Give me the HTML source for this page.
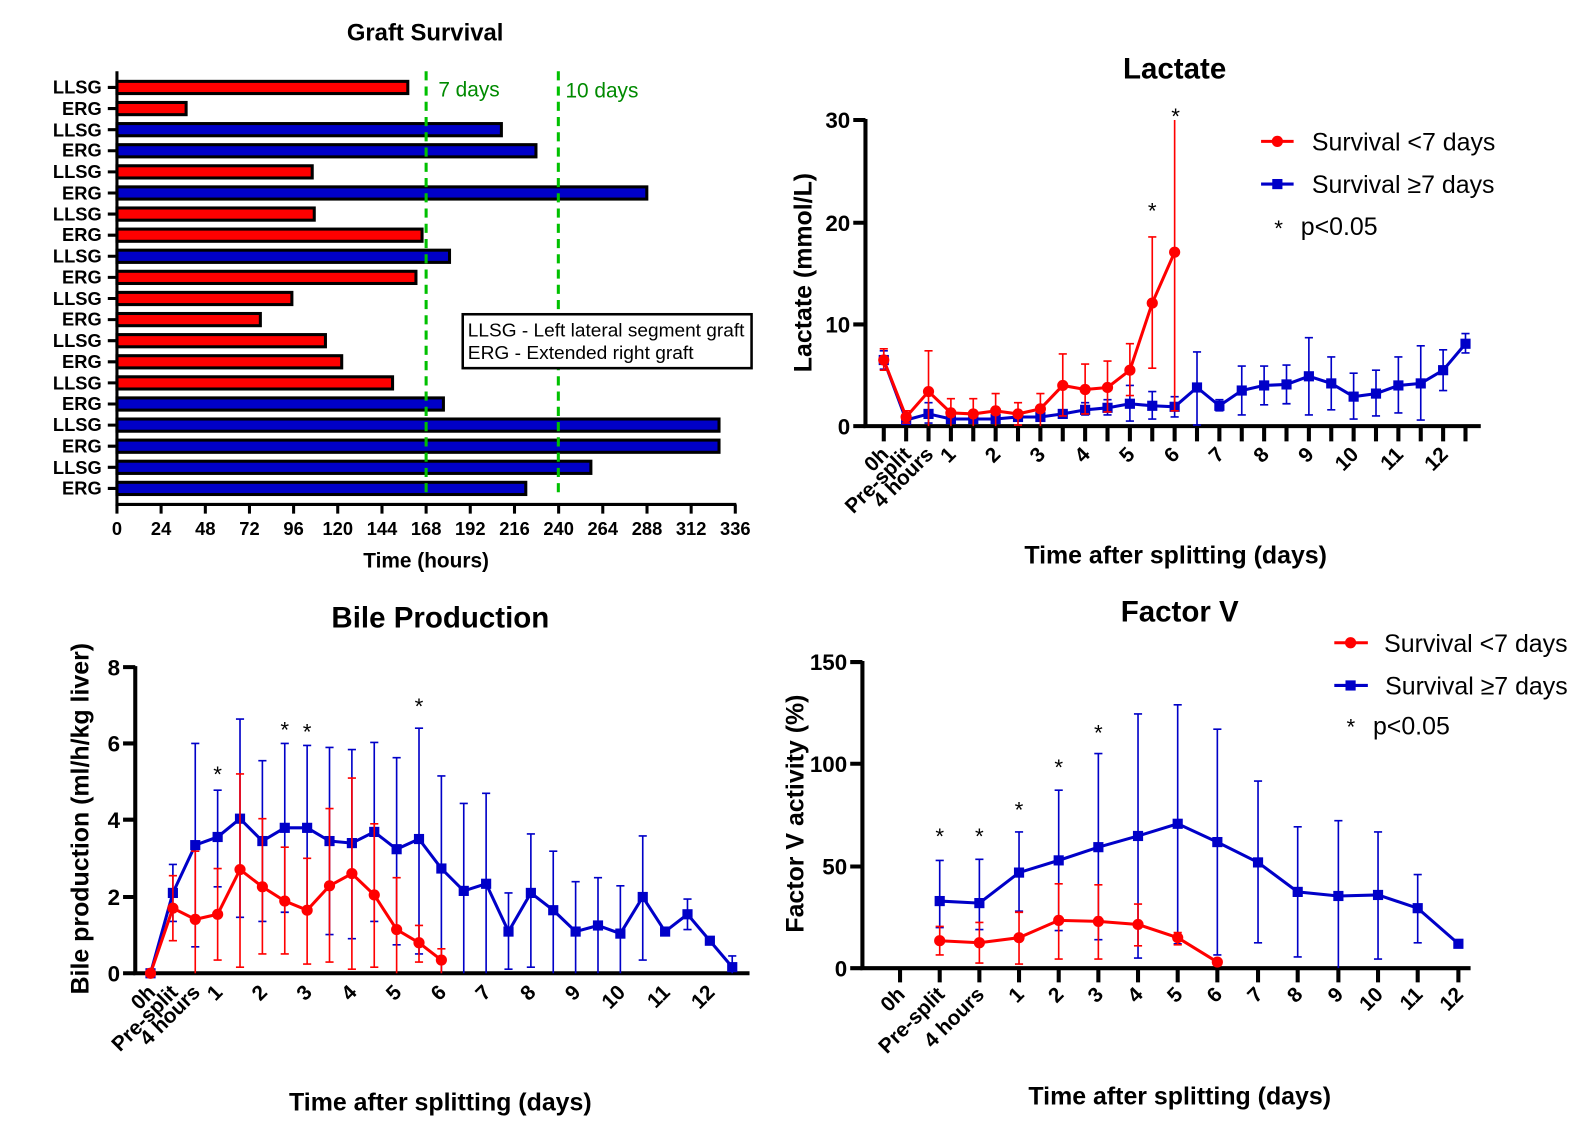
<!DOCTYPE html>
<html><head><meta charset="utf-8"><style>
html,body{margin:0;padding:0;background:#fff;}
svg{display:block;font-family:"Liberation Sans",Arial,sans-serif;}
.b{font-weight:bold;}
</style></head><body>
<svg width="1594" height="1140" viewBox="0 0 1594 1140" xmlns="http://www.w3.org/2000/svg">
<g transform="scale(1.017)">
<!-- ============ GRAFT SURVIVAL ============ -->
<text x="418" y="40" text-anchor="middle" class="b" font-size="23.5">Graft Survival</text>
<g stroke="#000" stroke-width="3">
<rect x="115" y="80" width="286" height="12" fill="#f00"/>
<rect x="115" y="100.75" width="68" height="12" fill="#f00"/>
<rect x="115" y="121.5" width="378" height="12" fill="#0000c8"/>
<rect x="115" y="142.25" width="412" height="12" fill="#0000c8"/>
<rect x="115" y="163" width="192" height="12" fill="#f00"/>
<rect x="115" y="183.75" width="521" height="12" fill="#0000c8"/>
<rect x="115" y="204.5" width="194" height="12" fill="#f00"/>
<rect x="115" y="225.25" width="300" height="12" fill="#f00"/>
<rect x="115" y="246" width="327" height="12" fill="#0000c8"/>
<rect x="115" y="266.75" width="294" height="12" fill="#f00"/>
<rect x="115" y="287.5" width="172" height="12" fill="#f00"/>
<rect x="115" y="308.25" width="141" height="12" fill="#f00"/>
<rect x="115" y="329" width="205" height="12" fill="#f00"/>
<rect x="115" y="349.75" width="221" height="12" fill="#f00"/>
<rect x="115" y="370.5" width="271" height="12" fill="#f00"/>
<rect x="115" y="391.25" width="321" height="12" fill="#0000c8"/>
<rect x="115" y="412" width="592" height="12" fill="#0000c8"/>
<rect x="115" y="432.75" width="592" height="12" fill="#0000c8"/>
<rect x="115" y="453.5" width="466" height="12" fill="#0000c8"/>
<rect x="115" y="474.25" width="402" height="12" fill="#0000c8"/>
</g>
<g stroke="#000" stroke-width="3" fill="none">
<path d="M115 70 V497 M113.5 496 H724"/>
<path d="M106 86H115M106 106.75H115M106 127.5H115M106 148.25H115M106 169H115M106 189.75H115M106 210.5H115M106 231.25H115M106 252H115M106 272.75H115M106 293.5H115M106 314.25H115M106 335H115M106 355.75H115M106 376.5H115M106 397.25H115M106 418H115M106 438.75H115M106 459.5H115M106 480.25H115"/>
<path d="M115 496V505M158.4 496V505M201.9 496V505M245.3 496V505M288.7 496V505M332.1 496V505M375.6 496V505M419 496V505M462.4 496V505M505.9 496V505M549.3 496V505M592.7 496V505M636.2 496V505M679.6 496V505M723 496V505"/>
</g>
<g class="b" font-size="18" text-anchor="end">
<text x="100" y="92">LLSG</text><text x="100" y="113">ERG</text>
<text x="100" y="134">LLSG</text><text x="100" y="154">ERG</text>
<text x="100" y="175">LLSG</text><text x="100" y="196">ERG</text>
<text x="100" y="217">LLSG</text><text x="100" y="237">ERG</text>
<text x="100" y="258">LLSG</text><text x="100" y="279">ERG</text>
<text x="100" y="300">LLSG</text><text x="100" y="320">ERG</text>
<text x="100" y="341">LLSG</text><text x="100" y="362">ERG</text>
<text x="100" y="383">LLSG</text><text x="100" y="403">ERG</text>
<text x="100" y="424">LLSG</text><text x="100" y="445">ERG</text>
<text x="100" y="466">LLSG</text><text x="100" y="486">ERG</text>
</g>
<g class="b" font-size="18" text-anchor="middle">
<text x="115" y="526">0</text><text x="158.4" y="526">24</text><text x="201.9" y="526">48</text><text x="245.3" y="526">72</text><text x="288.7" y="526">96</text><text x="332.1" y="526">120</text><text x="375.6" y="526">144</text><text x="419" y="526">168</text><text x="462.4" y="526">192</text><text x="505.9" y="526">216</text><text x="549.3" y="526">240</text><text x="592.7" y="526">264</text><text x="636.2" y="526">288</text><text x="679.6" y="526">312</text><text x="723" y="526">336</text>
</g>
<text x="419" y="558" text-anchor="middle" class="b" font-size="20.5">Time (hours)</text>
<g stroke="#00c000" stroke-width="3" stroke-dasharray="9,6">
<path d="M419 70V486M549 70V486"/>
</g>
<text x="431" y="95" fill="#008a00" font-size="20.5">7 days</text>
<text x="556" y="96" fill="#008a00" font-size="20.5">10 days</text>
<rect x="455" y="309" width="284" height="53" fill="#fff" stroke="#000" stroke-width="2.5"/>
<text x="460" y="331" font-size="18" textLength="272" lengthAdjust="spacingAndGlyphs">LLSG - Left lateral segment graft</text>
<text x="460" y="353" font-size="18" textLength="222" lengthAdjust="spacingAndGlyphs">ERG - Extended right graft</text>

<!-- ============ LACTATE ============ -->
<text x="1155" y="77" text-anchor="middle" class="b" font-size="29">Lactate</text>
<g stroke="#000" stroke-width="4" fill="none">
<path d="M851 117V421 M849 419H1456"/>
<path d="M839 419H851M839 319H851M839 219H851M839 118H851"/>
<path d="M869 419V434M891 419V434M913 419V434M935 419V434M957 419V434M979 419V434M1001 419V434M1023 419V434M1045 419V434M1067 419V434M1089 419V434M1111 419V434M1133 419V434M1155 419V434M1177 419V434M1199 419V434M1221 419V434M1243 419V434M1265 419V434M1287 419V434M1309 419V434M1331 419V434M1353 419V434M1375 419V434M1397 419V434M1419 419V434M1441 419V434"/>
</g>
<g class="b" font-size="22" text-anchor="end">
<text x="836" y="427">0</text><text x="836" y="327">10</text><text x="836" y="227">20</text><text x="836" y="126">30</text>
</g>
<g class="b" font-size="20.5" text-anchor="end">
<text transform="translate(875,448) rotate(-45)">0h</text>
<text transform="translate(897,448) rotate(-45)">Pre-split</text>
<text transform="translate(919,448) rotate(-45)">4 hours</text>
<text transform="translate(941,448) rotate(-45)">1</text>
<text transform="translate(985,448) rotate(-45)">2</text>
<text transform="translate(1029,448) rotate(-45)">3</text>
<text transform="translate(1073,448) rotate(-45)">4</text>
<text transform="translate(1117,448) rotate(-45)">5</text>
<text transform="translate(1161,448) rotate(-45)">6</text>
<text transform="translate(1205,448) rotate(-45)">7</text>
<text transform="translate(1249,448) rotate(-45)">8</text>
<text transform="translate(1293,448) rotate(-45)">9</text>
<text transform="translate(1337,448) rotate(-45)">10</text>
<text transform="translate(1381,448) rotate(-45)">11</text>
<text transform="translate(1425,448) rotate(-45)">12</text>
</g>
<text transform="translate(798,268) rotate(-90)" text-anchor="middle" class="b" font-size="24.5">Lactate (mmol/L)</text>
<text x="1156" y="554" text-anchor="middle" class="b" font-size="24.5">Time after splitting (days)</text>
<!-- blue -->
<g stroke="#0000c8" stroke-width="1.6" fill="none">
<path d="M869 345V363M865 345h8M865 363h8 M891 409V416M887 409h8M887 416h8 M913 396V416M909 396h8M909 416h8 M935 408V416M931 408h8M931 416h8 M957 408V416M953 408h8M953 416h8 M979 408V416M975 408h8M975 416h8 M1001 406V414M997 406h8M997 414h8 M1023 406V414M1019 406h8M1019 414h8 M1045 403V411M1041 403h8M1041 411h8 M1067 396V408M1063 396h8M1063 408h8 M1089 393V408M1085 393h8M1085 408h8 M1111 379V414M1107 379h8M1107 414h8 M1133 385V412M1129 385h8M1129 412h8 M1155 390V410M1151 390h8M1151 410h8 M1177 346V418M1173 346h8M1173 418h8 M1199 393V404M1195 393h8M1195 404h8 M1221 360V408M1217 360h8M1217 408h8 M1243 360V398M1239 360h8M1239 398h8 M1265 359V397M1261 359h8M1261 397h8 M1287 332V408M1283 332h8M1283 408h8 M1309 351V403M1305 351h8M1305 403h8 M1331 367V412M1327 367h8M1327 412h8 M1353 364V409M1349 364h8M1349 409h8 M1375 351V406M1371 351h8M1371 406h8 M1397 340V413M1393 340h8M1393 413h8 M1419 344V384M1415 344h8M1415 384h8 M1441 328V347M1437 328h8M1437 347h8"/>
</g>
<polyline fill="none" stroke="#0000c8" stroke-width="3" points="869,354 891,413 913,407 935,412 957,412 979,412 1001,410 1023,410 1045,407 1067,403 1089,401 1111,397 1133,399 1155,400 1177,381 1199,399 1221,384 1243,379 1265,378 1287,370 1309,377 1331,390 1353,387 1375,379 1397,377 1419,364 1441,338"/>
<g fill="#0000c8">
<rect x="864" y="349" width="10" height="10"/><rect x="886" y="408" width="10" height="10"/><rect x="908" y="402" width="10" height="10"/><rect x="930" y="407" width="10" height="10"/><rect x="952" y="407" width="10" height="10"/><rect x="974" y="407" width="10" height="10"/><rect x="996" y="405" width="10" height="10"/><rect x="1018" y="405" width="10" height="10"/><rect x="1040" y="402" width="10" height="10"/><rect x="1062" y="398" width="10" height="10"/><rect x="1084" y="396" width="10" height="10"/><rect x="1106" y="392" width="10" height="10"/><rect x="1128" y="394" width="10" height="10"/><rect x="1150" y="395" width="10" height="10"/><rect x="1172" y="376" width="10" height="10"/><rect x="1194" y="394" width="10" height="10"/><rect x="1216" y="379" width="10" height="10"/><rect x="1238" y="374" width="10" height="10"/><rect x="1260" y="373" width="10" height="10"/><rect x="1282" y="365" width="10" height="10"/><rect x="1304" y="372" width="10" height="10"/><rect x="1326" y="385" width="10" height="10"/><rect x="1348" y="382" width="10" height="10"/><rect x="1370" y="374" width="10" height="10"/><rect x="1392" y="372" width="10" height="10"/><rect x="1414" y="359" width="10" height="10"/><rect x="1436" y="333" width="10" height="10"/>
</g>
<!-- red -->
<g stroke="#f00" stroke-width="1.6" fill="none">
<path d="M869 343V364M865 343h8M865 364h8 M891 404V416M887 404h8M887 416h8 M913 345V419M909 345h8 M935 392V419M931 392h8 M957 392V419M953 392h8 M979 387V419M975 387h8 M1001 396V418M997 396h8M997 418h8 M1023 387V419M1019 387h8 M1045 348V409M1041 348h8M1041 409h8 M1067 358V407M1063 358h8M1063 407h8 M1089 355V405M1085 355h8M1085 405h8 M1111 338V389M1107 338h8M1107 389h8 M1133 233V362M1129 233h8M1129 362h8 M1155 118V404M1151 404h8"/>
</g>
<polyline fill="none" stroke="#f00" stroke-width="3" points="869,354 891,410 913,385 935,406 957,407 979,404 1001,407 1023,402 1045,379 1067,383 1089,381 1111,364 1133,298 1155,248"/>
<g fill="#f00">
<circle cx="869" cy="354" r="5.5"/><circle cx="891" cy="410" r="5.5"/><circle cx="913" cy="385" r="5.5"/><circle cx="935" cy="406" r="5.5"/><circle cx="957" cy="407" r="5.5"/><circle cx="979" cy="404" r="5.5"/><circle cx="1001" cy="407" r="5.5"/><circle cx="1023" cy="402" r="5.5"/><circle cx="1045" cy="379" r="5.5"/><circle cx="1067" cy="383" r="5.5"/><circle cx="1089" cy="381" r="5.5"/><circle cx="1111" cy="364" r="5.5"/><circle cx="1133" cy="298" r="5.5"/><circle cx="1155" cy="248" r="5.5"/>
</g>
<g font-size="22" text-anchor="middle">
<text x="1133" y="215">*</text>
<text x="1156" y="122">*</text>
</g>
<!-- legend -->
<path d="M1240 139H1272" stroke="#f00" stroke-width="3"/><circle cx="1256" cy="139" r="5.5" fill="#f00"/>
<path d="M1240 181H1272" stroke="#0000c8" stroke-width="3"/><rect x="1251" y="176" width="10" height="10" fill="#0000c8"/>
<text x="1290" y="148" font-size="24.5">Survival &lt;7 days</text>
<text x="1290" y="190" font-size="24.5">Survival ≥7 days</text>
<text x="1253" y="232" font-size="22">*</text>
<text x="1279" y="231" font-size="24.5">p&lt;0.05</text>

<!-- ============ BILE ============ -->
<text x="433" y="617" text-anchor="middle" class="b" font-size="29">Bile Production</text>
<g stroke="#000" stroke-width="4" fill="none">
<path d="M133 655V959 M131 957H737"/>
<path d="M121 957H133M121 882H133M121 806H133M121 731H133M121 656H133"/>
</g>
<g class="b" font-size="22" text-anchor="end">
<text x="118" y="965">0</text><text x="118" y="890">2</text><text x="118" y="814">4</text><text x="118" y="739">6</text><text x="118" y="664">8</text>
</g>
<g class="b" font-size="20.5" text-anchor="end">
<text transform="translate(154,977) rotate(-45)">0h</text>
<text transform="translate(176,977) rotate(-45)">Pre-split</text>
<text transform="translate(198,977) rotate(-45)">4 hours</text>
<text transform="translate(220,977) rotate(-45)">1</text>
<text transform="translate(264,977) rotate(-45)">2</text>
<text transform="translate(308,977) rotate(-45)">3</text>
<text transform="translate(352,977) rotate(-45)">4</text>
<text transform="translate(396,977) rotate(-45)">5</text>
<text transform="translate(440,977) rotate(-45)">6</text>
<text transform="translate(484,977) rotate(-45)">7</text>
<text transform="translate(528,977) rotate(-45)">8</text>
<text transform="translate(572,977) rotate(-45)">9</text>
<text transform="translate(616,977) rotate(-45)">10</text>
<text transform="translate(660,977) rotate(-45)">11</text>
<text transform="translate(704,977) rotate(-45)">12</text>
</g>
<text transform="translate(87,805) rotate(-90)" text-anchor="middle" class="b" font-size="24.5">Bile production (ml/h/kg liver)</text>
<text x="433" y="1092" text-anchor="middle" class="b" font-size="24.5">Time after splitting (days)</text>
<g stroke="#0000c8" stroke-width="1.6" fill="none">
<path d="M170 850V906M166 850h8M166 906h8 M192 731V931M188 731h8M188 931h8 M214 777V872M210 777h8M210 872h8 M236 707V902M232 707h8M232 902h8 M258 748V906M254 748h8M254 906h8 M280 731V897M276 731h8M276 897h8 M302 733V897M298 733h8M298 897h8 M324 735V919M320 735h8M320 919h8 M346 737V923M342 737h8M342 923h8 M368 730V906M364 730h8M364 906h8 M390 745V929M386 745h8M386 929h8 M412 716V938M408 716h8M408 938h8 M434 763V957M430 763h8 M456 790V957M452 790h8 M478 780V957M474 780h8 M500 878V953M496 878h8M496 953h8 M522 820V951M518 820h8M518 951h8 M544 837V957M540 837h8 M566 867V957M562 867h8 M588 863V957M584 863h8 M610 871V957M606 871h8 M632 822V944M628 822h8M628 944h8 M676 884V914M672 884h8M672 914h8 M720 940V957M716 940h8"/>
</g>
<polyline fill="none" stroke="#0000c8" stroke-width="3" points="148,957 170,878 192,831 214,823 236,805 258,827 280,814 302,814 324,827 346,829 368,818 390,835 412,825 434,854 456,876 478,869 500,916 522,878 544,895 566,916 588,910 610,918 632,882 654,916 676,899 698,925 720,951"/>
<g fill="#0000c8">
<rect x="143" y="952" width="10" height="10"/><rect x="165" y="873" width="10" height="10"/><rect x="187" y="826" width="10" height="10"/><rect x="209" y="818" width="10" height="10"/><rect x="231" y="800" width="10" height="10"/><rect x="253" y="822" width="10" height="10"/><rect x="275" y="809" width="10" height="10"/><rect x="297" y="809" width="10" height="10"/><rect x="319" y="822" width="10" height="10"/><rect x="341" y="824" width="10" height="10"/><rect x="363" y="813" width="10" height="10"/><rect x="385" y="830" width="10" height="10"/><rect x="407" y="820" width="10" height="10"/><rect x="429" y="849" width="10" height="10"/><rect x="451" y="871" width="10" height="10"/><rect x="473" y="864" width="10" height="10"/><rect x="495" y="911" width="10" height="10"/><rect x="517" y="873" width="10" height="10"/><rect x="539" y="890" width="10" height="10"/><rect x="561" y="911" width="10" height="10"/><rect x="583" y="905" width="10" height="10"/><rect x="605" y="913" width="10" height="10"/><rect x="627" y="877" width="10" height="10"/><rect x="649" y="911" width="10" height="10"/><rect x="671" y="894" width="10" height="10"/><rect x="693" y="920" width="10" height="10"/><rect x="715" y="946" width="10" height="10"/>
</g>
<g stroke="#f00" stroke-width="1.6" fill="none">
<path d="M170 861V925M166 861h8M166 925h8 M192 837V957M188 837h8 M214 854V944M210 854h8M210 944h8 M236 761V951M232 761h8M232 951h8 M258 805V938M254 805h8M254 938h8 M280 833V938M276 833h8M276 938h8 M302 844V948M298 844h8M298 948h8 M324 795V946M320 795h8M320 946h8 M346 765V953M342 765h8M342 953h8 M368 810V951M364 810h8M364 951h8 M390 863V957M386 863h8 M412 910V946M408 910h8M408 946h8 M434 933V957M430 933h8"/>
</g>
<polyline fill="none" stroke="#f00" stroke-width="3" points="148,957 170,893 192,904 214,899 236,855 258,872 280,886 302,895 324,871 346,859 368,880 390,914 412,927 434,944"/>
<g fill="#f00">
<circle cx="148" cy="957" r="5.5"/><circle cx="170" cy="893" r="5.5"/><circle cx="192" cy="904" r="5.5"/><circle cx="214" cy="899" r="5.5"/><circle cx="236" cy="855" r="5.5"/><circle cx="258" cy="872" r="5.5"/><circle cx="280" cy="886" r="5.5"/><circle cx="302" cy="895" r="5.5"/><circle cx="324" cy="871" r="5.5"/><circle cx="346" cy="859" r="5.5"/><circle cx="368" cy="880" r="5.5"/><circle cx="390" cy="914" r="5.5"/><circle cx="412" cy="927" r="5.5"/><circle cx="434" cy="944" r="5.5"/>
</g>
<g font-size="22" text-anchor="middle">
<text x="214" y="769">*</text><text x="280" y="725">*</text><text x="302" y="727">*</text><text x="412" y="702">*</text>
</g>

<!-- ============ FACTOR V ============ -->
<text x="1160" y="611" text-anchor="middle" class="b" font-size="29">Factor V</text>
<g stroke="#000" stroke-width="4" fill="none">
<path d="M848 650V954 M846 952H1446"/>
<path d="M836 952H848M836 852H848M836 751H848M836 651H848"/>
<path d="M885 952V966M924 952V966M963 952V966M1002 952V966M1041 952V966M1080 952V966M1119 952V966M1158 952V966M1197 952V966M1237 952V966M1276 952V966M1316 952V966M1355 952V966M1394 952V966M1434 952V966"/>
</g>
<g class="b" font-size="22" text-anchor="end">
<text x="833" y="960">0</text><text x="833" y="860">50</text><text x="833" y="759">100</text><text x="833" y="659">150</text>
</g>
<g class="b" font-size="20.5" text-anchor="end">
<text transform="translate(891,979) rotate(-45)">0h</text>
<text transform="translate(930,979) rotate(-45)">Pre-split</text>
<text transform="translate(969,979) rotate(-45)">4 hours</text>
<text transform="translate(1008,979) rotate(-45)">1</text>
<text transform="translate(1047,979) rotate(-45)">2</text>
<text transform="translate(1086,979) rotate(-45)">3</text>
<text transform="translate(1125,979) rotate(-45)">4</text>
<text transform="translate(1164,979) rotate(-45)">5</text>
<text transform="translate(1203,979) rotate(-45)">6</text>
<text transform="translate(1243,979) rotate(-45)">7</text>
<text transform="translate(1282,979) rotate(-45)">8</text>
<text transform="translate(1322,979) rotate(-45)">9</text>
<text transform="translate(1361,979) rotate(-45)">10</text>
<text transform="translate(1400,979) rotate(-45)">11</text>
<text transform="translate(1440,979) rotate(-45)">12</text>
</g>
<text transform="translate(790,800) rotate(-90)" text-anchor="middle" class="b" font-size="24.5">Factor V activity (%)</text>
<text x="1160" y="1086" text-anchor="middle" class="b" font-size="24.5">Time after splitting (days)</text>
<g stroke="#0000c8" stroke-width="1.6" fill="none">
<path d="M924 846V912M920 846h8M920 912h8 M963 845V914M959 845h8M959 914h8 M1002 818V896M998 818h8M998 896h8 M1041 777V915M1037 777h8M1037 915h8 M1080 741V924M1076 741h8M1076 924h8 M1119 702V942M1115 702h8M1115 942h8 M1158 693V928M1154 693h8M1154 928h8 M1197 717V939M1193 717h8M1193 939h8 M1237 768V927M1233 768h8M1233 927h8 M1276 813V941M1272 813h8M1272 941h8 M1316 807V952M1312 807h8 M1355 818V943M1351 818h8M1351 943h8 M1394 860V927M1390 860h8M1390 927h8"/>
</g>
<polyline fill="none" stroke="#0000c8" stroke-width="3" points="924,886 963,888 1002,858 1041,846 1080,833 1119,822 1158,810 1197,828 1237,848 1276,877 1316,881 1355,880 1394,893 1434,928"/>
<g fill="#0000c8">
<rect x="919" y="881" width="10" height="10"/><rect x="958" y="883" width="10" height="10"/><rect x="997" y="853" width="10" height="10"/><rect x="1036" y="841" width="10" height="10"/><rect x="1075" y="828" width="10" height="10"/><rect x="1114" y="817" width="10" height="10"/><rect x="1153" y="805" width="10" height="10"/><rect x="1192" y="823" width="10" height="10"/><rect x="1232" y="843" width="10" height="10"/><rect x="1271" y="872" width="10" height="10"/><rect x="1311" y="876" width="10" height="10"/><rect x="1350" y="875" width="10" height="10"/><rect x="1389" y="888" width="10" height="10"/><rect x="1429" y="923" width="10" height="10"/>
</g>
<g stroke="#f00" stroke-width="1.6" fill="none">
<path d="M924 911V939M920 911h8M920 939h8 M963 907V947M959 907h8M959 947h8 M1002 897V948M998 897h8M998 948h8 M1041 869V943M1037 869h8M1037 943h8 M1080 870V943M1076 870h8M1076 943h8 M1119 889V930M1115 889h8M1115 930h8 M1158 917V929M1154 917h8M1154 929h8"/>
</g>
<polyline fill="none" stroke="#f00" stroke-width="3" points="924,925 963,927 1002,922 1041,905 1080,906 1119,909 1158,922 1197,946"/>
<g fill="#f00">
<circle cx="924" cy="925" r="5.5"/><circle cx="963" cy="927" r="5.5"/><circle cx="1002" cy="922" r="5.5"/><circle cx="1041" cy="905" r="5.5"/><circle cx="1080" cy="906" r="5.5"/><circle cx="1119" cy="909" r="5.5"/><circle cx="1158" cy="922" r="5.5"/><circle cx="1197" cy="946" r="5.5"/>
</g>
<g font-size="22" text-anchor="middle">
<text x="924" y="830">*</text><text x="963" y="830">*</text><text x="1002" y="804">*</text><text x="1041" y="762">*</text><text x="1080" y="728">*</text>
</g>
<path d="M1312 632H1345" stroke="#f00" stroke-width="3"/><circle cx="1328" cy="632" r="5.5" fill="#f00"/>
<path d="M1312 674H1345" stroke="#0000c8" stroke-width="3"/><rect x="1323" y="669" width="10" height="10" fill="#0000c8"/>
<text x="1361" y="641" font-size="24.5">Survival &lt;7 days</text>
<text x="1362" y="683" font-size="24.5">Survival ≥7 days</text>
<text x="1324" y="722" font-size="22">*</text>
<text x="1350" y="722" font-size="24.5">p&lt;0.05</text>
</g>
</svg>
</body></html>
